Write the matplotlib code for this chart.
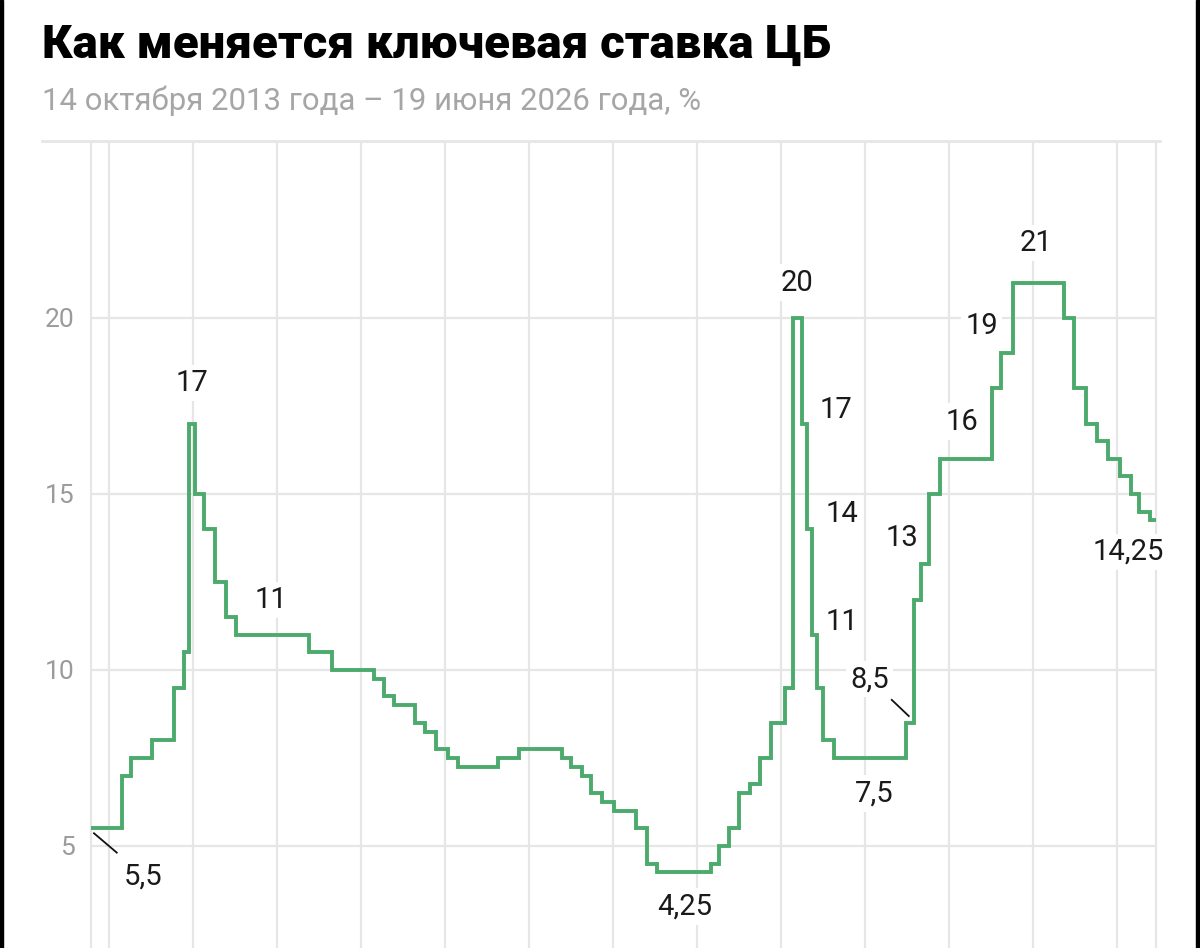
import matplotlib
matplotlib.use("Agg")
import matplotlib.pyplot as plt
import pandas as pd
from matplotlib.lines import Line2D
from matplotlib.patches import Rectangle

# key rate steps, dates
change_dates = [
    "2013-10-14", "2014-02-24", "2014-04-04", "2014-07-06", "2014-10-08",
    "2014-11-22", "2014-12-12", "2015-01-09", "2015-02-17", "2015-04-06",
    "2015-05-23", "2015-07-06", "2016-05-18", "2016-08-25", "2017-02-27",
    "2017-04-11", "2017-05-23", "2017-08-24", "2017-10-06", "2017-11-22",
    "2018-01-13", "2018-02-28", "2018-08-19", "2018-11-19", "2019-05-22",
    "2019-07-04", "2019-08-17", "2019-09-29", "2019-11-16", "2020-01-07",
    "2020-04-09", "2020-05-26", "2020-07-08", "2021-03-02", "2021-04-06",
    "2021-05-20", "2021-07-03", "2021-08-18", "2021-10-01", "2021-11-18",
    "2022-01-18", "2022-02-20", "2022-03-31", "2022-04-22", "2022-05-15",
    "2022-06-06", "2022-07-02", "2022-08-18", "2023-06-30", "2023-08-01",
    "2023-09-03", "2023-10-05", "2023-11-22", "2024-07-04", "2024-08-16",
    "2024-10-06", "2025-05-16", "2025-06-27", "2025-08-17", "2025-10-04",
    "2025-11-22", "2026-01-13", "2026-03-02", "2026-04-06", "2026-05-23",
]
rates = [
    5.5, 7.0, 7.5, 8.0, 9.5,
    10.5, 17.0, 15.0, 14.0, 12.5,
    11.5, 11.0, 10.5, 10.0, 9.75,
    9.25, 9.0, 8.5, 8.25, 7.75,
    7.5, 7.25, 7.5, 7.75, 7.5,
    7.25, 7.0, 6.5, 6.25, 6.0,
    5.5, 4.5, 4.25, 4.5, 5.0,
    5.5, 6.5, 6.75, 7.5, 8.5,
    9.5, 20.0, 17.0, 14.0, 11.0,
    9.5, 8.0, 7.5, 8.5, 12.0,
    13.0, 15.0, 16.0, 18.0, 19.0,
    21.0, 20.0, 18.0, 17.0, 16.5,
    16.0, 15.5, 15.0, 14.5, 14.25,
]
start_date = "2013-10-14"
end_date = "2026-06-19"

label_texts = ["5,5", "17", "11", "4,25", "20", "17", "14", "11",
               "8,5", "7,5", "13", "16", "19", "21", "14,25"]
label_dates = ["2014-05-28", "2014-12-27", "2015-12-05", "2020-11-09",
               "2022-03-11", "2022-08-27", "2022-09-24", "2022-09-21",
               "2023-01-20", "2023-02-09", "2023-06-10", "2024-02-25",
               "2024-05-22", "2025-01-14", "2026-02-17"]
label_values = [4.12, 18.15, 11.99, 3.27, 21.0, 17.39, 14.42, 11.36,
                9.74, 6.48, 13.76, 17.05, 19.77, 22.13, 13.35]

leader_starts = [("2013-10-27", 5.36), ("2023-04-27", 9.15)]
leader_ends = [("2014-02-03", 4.81), ("2023-07-10", 8.69)]

y_ticks = [5, 10, 15, 20]

GREEN = "#4caa6c"
GRID = "#e6e6e6"

plt.rcParams["font.family"] = ["Roboto", "DejaVu Sans"]

fig = plt.figure(figsize=(12, 9.48), dpi=100)
W, H = 1200, 948
ax = fig.add_axes([91 / W, 0, (1156 - 91) / W, (948 - 142) / H])

dates = pd.to_datetime(change_dates + [end_date])
vals = rates + [rates[-1]]
ax.step(dates, vals, where="post", color=GREEN, lw=2.8, zorder=4,
        solid_joinstyle="miter")

ax.set_xlim(pd.Timestamp(start_date), pd.Timestamp(end_date))
ax.set_ylim(2.1, 25)

years = pd.date_range("2014-01-01", "2026-01-01", freq="YS")
ax.set_xticks(years)
ax.set_xticklabels([])
ax.set_yticks(y_ticks)
ax.set_yticklabels([str(t) for t in y_ticks])
ax.tick_params(length=0, pad=12, labelsize=19, labelcolor="#9b9b9b")
ax.grid(True, color=GRID, lw=1.6, zorder=0)
ax.set_axisbelow(True)

for side in ["top", "bottom"]:
    ax.spines[side].set_visible(False)
for side in ["left", "right"]:
    ax.spines[side].set_color(GRID)
    ax.spines[side].set_linewidth(1.6)

for t, d, v in zip(label_texts, label_dates, label_values):
    ax.text(pd.Timestamp(d), v, t, ha="center", va="center", fontsize=21,
            color="#1a1a1a", zorder=3,
            bbox=dict(boxstyle="square,pad=0.15", fc="white", ec="none"))

for (d0, v0), (d1, v1) in zip(leader_starts, leader_ends):
    ax.plot([pd.Timestamp(d0), pd.Timestamp(d1)], [v0, v1], color="#111111",
            lw=1.3, zorder=3)

# title and subtitle
fig.text(42 / W, 1 - 58 / H, "Как меняется ключевая ставка ЦБ",
         fontsize=34, fontweight=900, color="#000000", va="baseline")
fig.text(42 / W, 1 - 110 / H, "14 октября 2013 года – 19 июня 2026 года, %",
         fontsize=22.4, color="#a6a6a6", va="baseline")

# separator line at top of plot
fig.add_artist(Line2D([42 / W, 1160 / W], [1 - 141 / H, 1 - 141 / H],
                      color=GRID, lw=2))

# dark screenshot edges
fig.add_artist(Rectangle((0, 0), 3 / W, 1, color="black",
                         transform=fig.transFigure))
fig.add_artist(Rectangle((1 - 4 / W, 0), 4 / W, 1, color="black",
                         transform=fig.transFigure))

fig.savefig("out.png", dpi=100)
